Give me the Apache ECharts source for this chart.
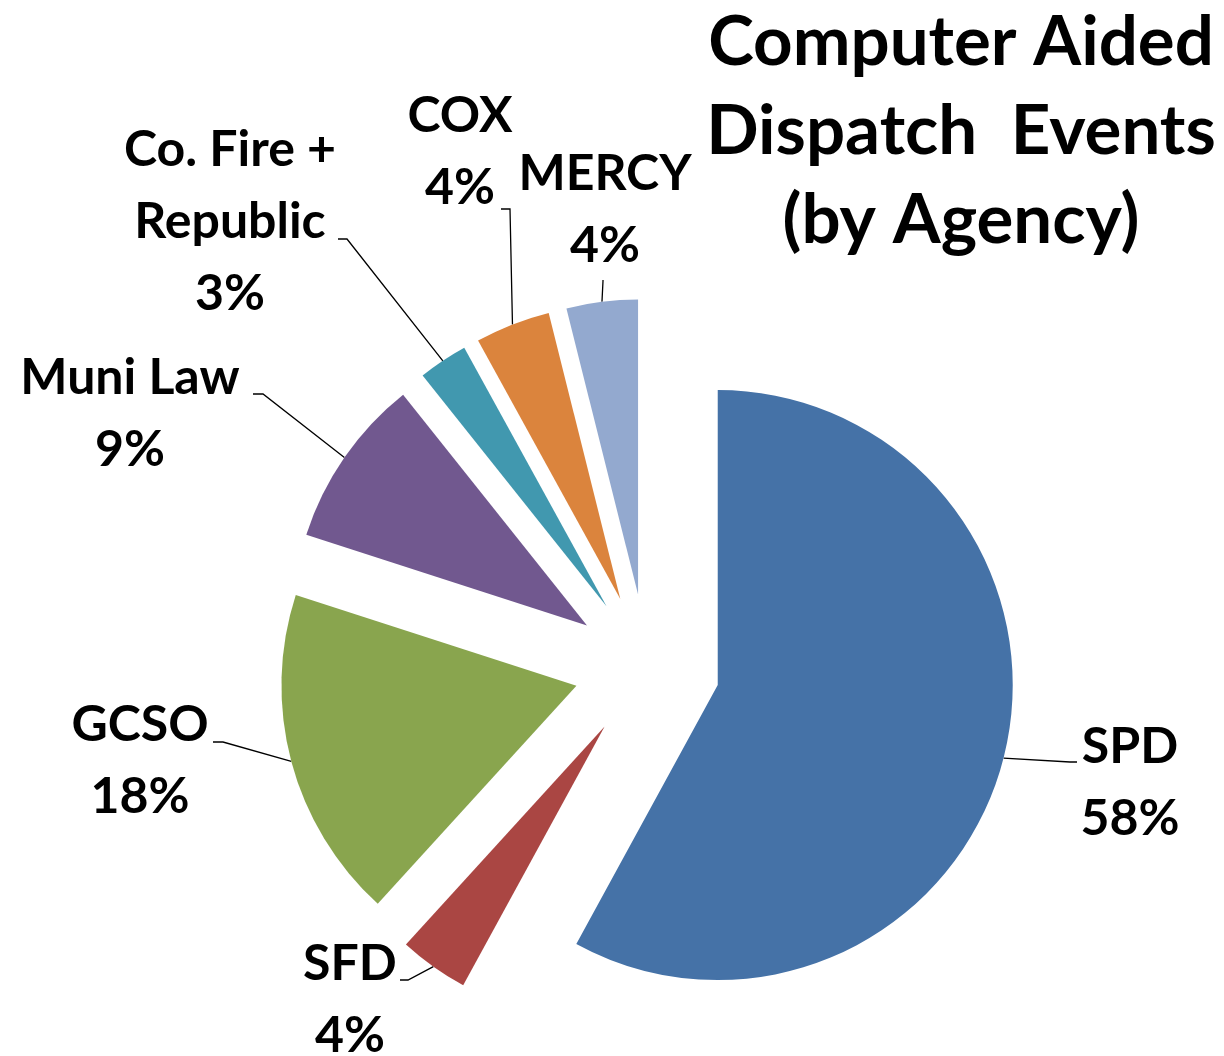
<!DOCTYPE html>
<html>
<head>
<meta charset="utf-8">
<script src="https://cdn.jsdelivr.net/npm/echarts@6/dist/echarts.min.js"></script>
<style>
html,body{margin:0;padding:0;background:#fff;}
#chart{width:1224px;height:1056px;}
</style>
</head>
<body>
<div id="chart"></div>
<script>
const agencies = ['SPD', 'SFD', 'GCSO', 'Muni Law', 'Co. Fire +\nRepublic', 'COX', 'MERCY'];
const shares = [57.9, 3.8, 18.2, 9.3, 2.7, 4.1, 3.9];
const colors = ['#4572A7', '#AA4643', '#89A54E', '#71588F', '#4198AF', '#DB843D', '#93A9CF'];
const titleText = 'Computer Aided\nDispatch  Events\n(by Agency)';

// label block centres (layout only)
const labelSpots = {
  'SPD': [1130, 783],
  'SFD': [350, 1000],
  'GCSO': [140, 761],
  'Muni Law': [130, 414],
  'Co. Fire +\nRepublic': [230, 222],
  'COX': [460, 152],
  'MERCY': [605, 210]
};
// leader-line elbow and end beside each label (layout only)
const leaderEnds = {
  'SPD': [[1070, 762], [1077, 762]],
  'SFD': [[408, 980], [400, 980]],
  'GCSO': [[223, 742], [213, 742]],
  'Muni Law': [[263, 394], [253, 394]],
  'Co. Fire +\nRepublic': [[347, 239], [338, 239]],
  'COX': [[510, 209], [501, 209]],
  'MERCY': [[603, 281], [603, 280]]
};

const FONT = 'Lato, "Open Sans", sans-serif';
const PIE_CENTER = [647, 667];
const PIE_RADIUS = 295;
const EXPLODE = 73;

// exploded pie: one series per slice, each shifted outward along its own bisector
const total = shares.reduce((a, b) => a + b, 0);
let cum = 0;
const series = agencies.map((name, i) => {
  const mid = ((cum + shares[i] / 2) / total) * 2 * Math.PI;
  cum += shares[i];
  const center = [PIE_CENTER[0] + EXPLODE * Math.sin(mid), PIE_CENTER[1] - EXPLODE * Math.cos(mid)];
  return {
    type: 'pie',
    center: center,
    radius: [0, PIE_RADIUS],
    startAngle: 90,
    clockwise: true,
    percentPrecision: 0,
    avoidLabelOverlap: false,
    silent: true,
    emphasis: {disabled: true},
    label: {
      show: false,
      position: 'outside',
      formatter: '{b}\n{d}%',
      fontFamily: FONT,
      fontWeight: 'bold',
      fontSize: 50,
      lineHeight: 72,
      color: '#000',
      align: 'center'
    },
    labelLine: {show: false, lineStyle: {color: '#000', width: 1.3}},
    labelLayout: function (p) {
      if (p.dataIndex !== i) return {};
      const nm = agencies[p.dataIndex];
      const spot = labelSpots[nm];
      const out = {x: spot[0], y: spot[1], align: 'center', verticalAlign: 'middle'};
      if (p.labelLinePoints && p.labelLinePoints.length) {
        out.labelLinePoints = [p.labelLinePoints[0], leaderEnds[nm][0], leaderEnds[nm][1]];
      }
      return out;
    },
    data: agencies.map((n, j) => ({
      name: n,
      value: shares[j],
      itemStyle: {color: j === i ? colors[j] : 'rgba(0,0,0,0)', borderWidth: 0},
      label: {show: j === i},
      labelLine: {show: j === i}
    }))
  };
});

const chart = echarts.init(document.getElementById('chart'), null, {renderer: 'canvas'});
chart.setOption({
  animation: false,
  backgroundColor: '#ffffff',
  graphic: [{
    type: 'text',
    x: 961,
    y: -2,
    style: {
      text: titleText,
      align: 'center',
      verticalAlign: 'top',
      font: 'bold 69px ' + FONT,
      lineHeight: 89,
      fill: '#000'
    }
  }],
  series: series
});
</script>
</body>
</html>
